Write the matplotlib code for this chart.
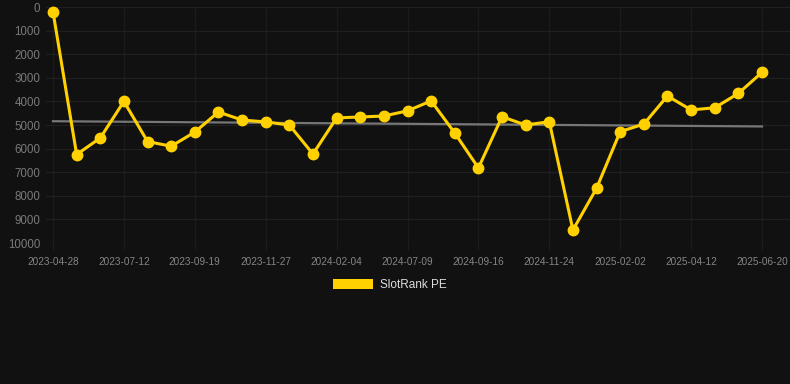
import numpy as np
import matplotlib
matplotlib.use("Agg")
import matplotlib.pyplot as plt
from matplotlib.patches import Rectangle

plt.rcParams['font.family'] = ['Liberation Sans', 'DejaVu Sans']

tick_labels = ["2023-04-28", "2023-07-12", "2023-09-19", "2023-11-27", "2024-02-04",
               "2024-07-09", "2024-09-16", "2024-11-24", "2025-02-02", "2025-04-12",
               "2025-06-20"]
rank_values = [200, 6250, 5550, 4000, 5700, 5900, 5300, 4450, 4790, 4870,
               5000, 6230, 4700, 4660, 4620, 4400, 3980, 5340, 6820, 4650,
               5000, 4860, 9450, 7680, 5280, 4960, 3770, 4360, 4270, 3660,
               2770]
series_name = "SlotRank PE"

BG = "#111111"
GOLD = "#FFD100"

fig = plt.figure(figsize=(7.9, 3.84), dpi=100, facecolor=BG)
W, H = 790, 384
left, right, top, bottom = 46, 790, 7, 243
ax = fig.add_axes([left / W, 1 - bottom / H, (right - left) / W, (bottom - top) / H], facecolor=BG)

x = np.arange(len(rank_values))
y = np.array(rank_values, dtype=float)

# trend line (least squares)
coef = np.polyfit(x, y, 1)
ax.plot([x[0], x[-1]], np.polyval(coef, [x[0], x[-1]]), color="#777777", lw=1.6, zorder=2)

ax.plot(x, y, color=GOLD, lw=2.2, marker="o", markersize=7.5, clip_on=False, zorder=3)

x0_px, x1_px = 53, 762
scale = (x1_px - x0_px) / (len(rank_values) - 1)
ax.set_xlim(-(x0_px - left) / scale, (len(rank_values) - 1) + (right - x1_px) / scale)
ax.set_ylim(10000, 0)

tick_pos = np.arange(0, len(rank_values), 3)
ax.set_xticks(tick_pos)
ax.set_xticklabels(tick_labels, fontsize=7.2, color="#858585")
ax.set_yticks(np.arange(0, 10001, 1000))
ax.set_yticklabels([str(v) for v in range(0, 10001, 1000)], fontsize=8.3, color="#7a7a7a")

ax.grid(True, axis='y', color="#202020", lw=0.9)
ax.grid(True, axis='x', color="#1b1b1b", lw=0.9)
ax.set_axisbelow(True)
for s in ax.spines.values():
    s.set_visible(False)
ax.tick_params(axis='x', length=5, color="#1e1e1e", pad=5)
ax.tick_params(axis='y', length=0, pad=4)

# legend
fig.patches.append(Rectangle((333 / W, 1 - 289 / H), 40 / W, 10 / H, transform=fig.transFigure,
                             facecolor=GOLD, edgecolor="none"))
fig.text(380 / W, 1 - 285 / H, series_name, fontsize=8.5, color="#dddddd", va="center", ha="left")

fig.savefig("out.png", dpi=100, facecolor=BG)
